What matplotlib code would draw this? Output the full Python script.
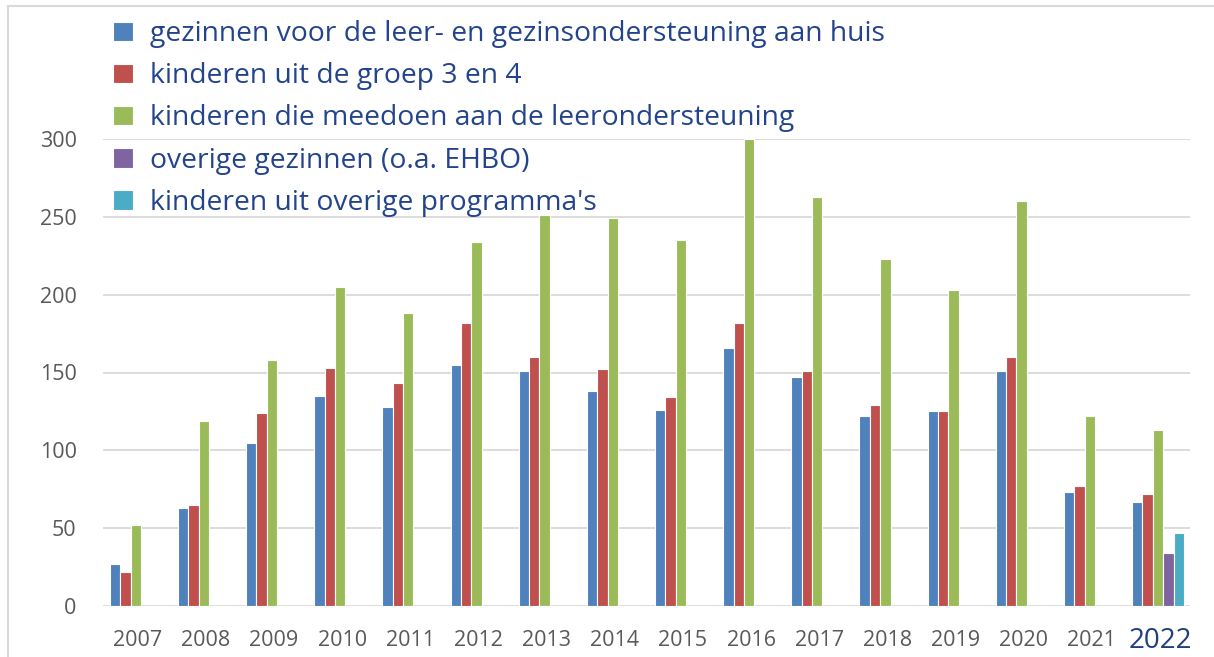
import numpy as np
import matplotlib.pyplot as plt
from matplotlib.lines import Line2D

plt.rcParams['font.family'] = ['Open Sans', 'DejaVu Sans']

years = ['2007', '2008', '2009', '2010', '2011', '2012', '2013', '2014',
         '2015', '2016', '2017', '2018', '2019', '2020', '2021', '2022']

gezinnen = [27, 63, 105, 135, 128, 155, 151, 138, 126, 166, 147, 122, 125, 151, 73, 67]
groep34 = [22, 65, 124, 153, 143, 182, 160, 152, 134, 182, 151, 129, 125, 160, 77, 72]
leeronder = [52, 119, 158, 205, 188, 234, 251, 249, 235, 300, 263, 223, 203, 260, 122, 113]
overig_gez = [0] * 15 + [34]
overig_kind = [0] * 15 + [47]

labels = ["gezinnen voor de leer- en gezinsondersteuning aan huis",
          "kinderen uit de groep 3 en 4",
          "kinderen die meedoen aan de leerondersteuning",
          "overige gezinnen (o.a. EHBO)",
          "kinderen uit overige programma's"]
colors = ['#4F81BD', '#C0504D', '#9BBB59', '#8064A2', '#4BACC6']

fig = plt.figure(figsize=(12.14, 6.57), dpi=100)
ax = fig.add_axes([103 / 1214, 51 / 657, 1087 / 1214, 467 / 657])

x = np.arange(len(years))
w = 0.152
series = [gezinnen, groep34, leeronder, overig_gez, overig_kind]
for i, (vals, c, lab) in enumerate(zip(series, colors, labels)):
    ax.bar(x + (i - 2) * w - 0.03, vals, width=w, color=c, edgecolor='white',
           linewidth=0.8, label=lab, zorder=3)

ax.set_xlim(-0.51, 15.44)
ax.set_ylim(0, 300)
ax.set_yticks(range(0, 301, 50))
ax.grid(axis='y', color='#d9d9d9', lw=1.3, zorder=0)
ax.tick_params(axis='both', length=0, labelsize=15.5, labelcolor='#595959')
ax.tick_params(axis='y', pad=19)
ax.tick_params(axis='x', pad=17)
ax.set_xticks(x)
ax.set_xticklabels(years)
last = ax.get_xticklabels()[-1]
last.set_fontsize(20)
last.set_color('#1F3F7F')
last.set_y(0.005)
for s in ax.spines.values():
    s.set_visible(False)

leg = fig.legend(loc='upper left', bbox_to_anchor=(102 / 1214, 1 - 9 / 657),
                 frameon=False, fontsize=20.3, handlelength=0.7, handleheight=0.7,
                 handletextpad=0.6, labelspacing=0.5, borderaxespad=0)
for t in leg.get_texts():
    t.set_color('#23448C')

# light frame around the picture
fig.add_artist(Line2D([8 / 1214, 8 / 1214], [0, 1 - 6 / 657], color='#d9d9d9', lw=1.5))
fig.add_artist(Line2D([8 / 1214, 1], [1 - 6 / 657, 1 - 6 / 657], color='#d9d9d9', lw=1.5))

fig.savefig('out.png', dpi=100)
